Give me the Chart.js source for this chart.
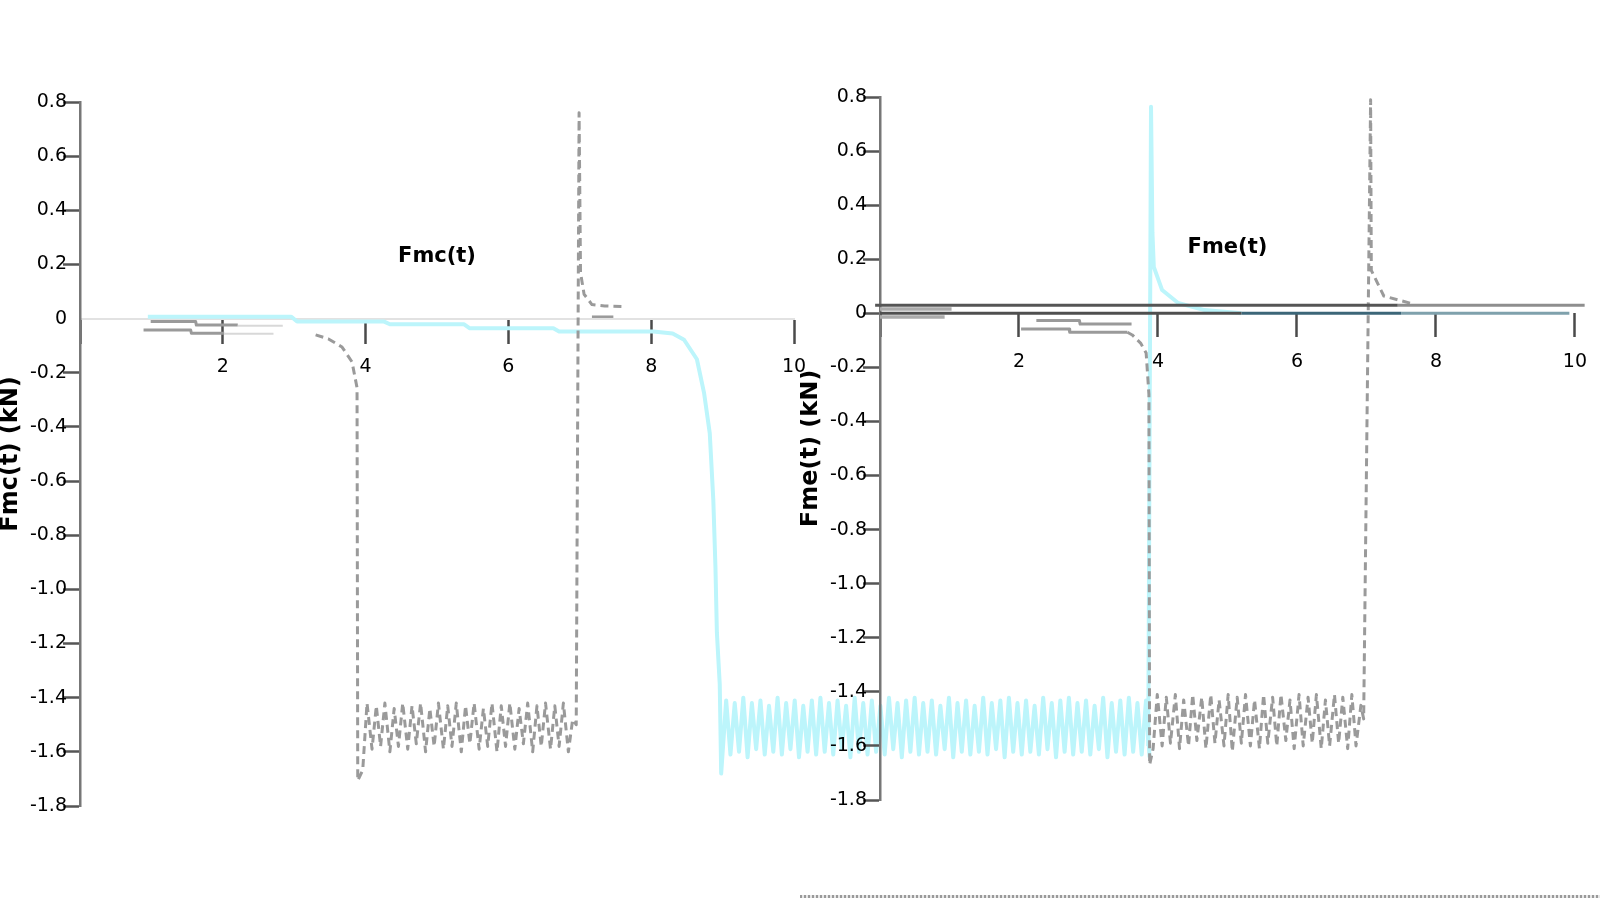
<!DOCTYPE html>
<html><head><meta charset="utf-8">
<script src="https://cdn.jsdelivr.net/npm/chart.js@4.4.0/dist/chart.umd.min.js"></script>
<style>
html,body{margin:0;padding:0;background:#fff;width:1600px;height:900px;overflow:hidden}
#wl{position:absolute;left:0;top:0;width:1600px;height:900px}
#wr{position:absolute;left:800px;top:0;width:800px;height:900px}
#strip{position:absolute;left:800px;top:895px;width:800px;height:3px;background:repeating-linear-gradient(90deg,#9a9a9a 0 2px,#e6e6e6 2px 4px)}
</style></head><body>
<div id="wl"><canvas id="cl"></canvas></div>
<div id="wr"><canvas id="cr"></canvas></div>
<div id="strip"></div>
<script>
// ---------- ticks ----------
const xTickValues = [0, 2, 4, 6, 8, 10];
const xTickLabels = ['', '2', '4', '6', '8', '10'];
const yTickValues = [-1.8, -1.6, -1.4, -1.2, -1.0, -0.8, -0.6, -0.4, -0.2, 0, 0.2, 0.4, 0.6, 0.8];
const yTickLabels = ['-1.8', '-1.6', '-1.4', '-1.2', '-1.0', '-0.8', '-0.6', '-0.4', '-0.2', '0', '0.2', '0.4', '0.6', '0.8'];

// ---------- titles ----------
const leftTitle = 'Fmc(t)';
const rightTitle = 'Fme(t)';
const leftAxisTitle = 'Fmc(t) (kN)';
const rightAxisTitle = 'Fme(t) (kN)';
const leftTitlePos = [5.0, 0.23];
const rightTitlePos = [5.0, 0.245];

// ---------- left panel ----------
const leftCyanX = [0.95, 2.96, 3.04, 4.26, 4.34, 5.38, 5.46, 6.63, 6.71, 8.03, 8.30, 8.46, 8.64, 8.74, 8.82, 8.87, 8.90, 8.92, 8.96, 8.98,
  9.05, 9.11, 9.17, 9.23, 9.29, 9.35, 9.41, 9.47, 9.53, 9.59,
  9.65, 9.71, 9.77, 9.83, 9.89, 9.95, 10.01, 10.07, 10.13, 10.19,
  10.25, 10.31, 10.37, 10.43, 10.49, 10.55, 10.61, 10.67, 10.73, 10.79,
  10.85, 10.91, 10.97, 11.03, 11.09, 11.15, 11.21, 11.27, 11.33, 11.39,
  11.45, 11.51, 11.57, 11.63, 11.69, 11.75, 11.81, 11.87, 11.93, 11.99,
  12.05, 12.11, 12.17, 12.23, 12.29, 12.35, 12.41, 12.47, 12.53, 12.59,
  12.65, 12.71, 12.77, 12.83, 12.89, 12.95, 13.01, 13.07, 13.13, 13.19,
  13.25, 13.31, 13.37, 13.43, 13.49, 13.55, 13.61, 13.67, 13.73, 13.79,
  13.85, 13.91, 13.97, 14.03, 14.09, 14.15, 14.21, 14.27, 14.33, 14.39,
  14.45, 14.51, 14.57, 14.63, 14.69, 14.75, 14.81, 14.87, 14.93, 14.98];
const leftCyanY = [0.007, 0.007, -0.011, -0.011, -0.021, -0.021, -0.036, -0.036, -0.048, -0.048, -0.055, -0.078, -0.15, -0.274, -0.423, -0.67, -0.92, -1.16, -1.35, -1.68,
  -1.41, -1.61, -1.42, -1.60, -1.40, -1.62, -1.42, -1.59, -1.41, -1.61,
  -1.43, -1.60, -1.40, -1.61, -1.42, -1.59, -1.41, -1.62, -1.43, -1.60,
  -1.41, -1.61, -1.40, -1.60, -1.42, -1.61, -1.41, -1.59, -1.43, -1.62,
  -1.40, -1.60, -1.42, -1.61, -1.41, -1.60, -1.43, -1.61, -1.40, -1.59,
  -1.42, -1.62, -1.41, -1.60, -1.40, -1.61, -1.42, -1.60, -1.41, -1.61,
  -1.43, -1.59, -1.40, -1.62, -1.42, -1.60, -1.41, -1.61, -1.43, -1.60,
  -1.40, -1.61, -1.42, -1.59, -1.41, -1.62, -1.40, -1.60, -1.42, -1.61,
  -1.41, -1.60, -1.43, -1.61, -1.40, -1.59, -1.42, -1.62, -1.41, -1.60,
  -1.40, -1.61, -1.42, -1.60, -1.41, -1.61, -1.43, -1.59, -1.40, -1.62,
  -1.42, -1.60, -1.41, -1.61, -1.40, -1.60, -1.42, -1.61, -1.41, -1.62];

const leftGrayX = [3.30, 3.48, 3.67, 3.81, 3.88, 3.89,
  3.96, 4.02, 4.09, 4.15, 4.21, 4.27, 4.34, 4.40, 4.46, 4.52, 4.59, 4.65, 4.71, 4.77, 4.84, 4.90, 4.96, 5.02, 5.09, 5.15, 5.21, 5.27, 5.34, 5.40,
  5.46, 5.52, 5.59, 5.65, 5.71, 5.77, 5.84, 5.90, 5.96, 6.02, 6.09, 6.15, 6.21, 6.27, 6.34, 6.40, 6.46, 6.52, 6.59, 6.65, 6.71, 6.77, 6.84, 6.90,
  6.95, 6.99, 7.01, 7.06, 7.17, 7.35, 7.60];
const leftGrayY = [-0.060, -0.075, -0.105, -0.160, -0.255, -1.706,
  -1.667, -1.42, -1.59, -1.43, -1.58, -1.42, -1.60, -1.44, -1.58, -1.42, -1.59, -1.43, -1.57, -1.42, -1.60, -1.44, -1.58, -1.42, -1.59, -1.43,
  -1.58, -1.42, -1.60, -1.43, -1.57, -1.42, -1.59, -1.44, -1.58, -1.42, -1.60, -1.43, -1.58, -1.42, -1.59, -1.44, -1.57, -1.42, -1.60, -1.43,
  -1.58, -1.42, -1.59, -1.43, -1.58, -1.42, -1.60, -1.48,
  -1.50, 0.76, 0.17, 0.09, 0.052, 0.047, 0.045];

const leftStepAX = [0.99, 1.62, 1.63, 2.21];
const leftStepAY = [-0.011, -0.011, -0.024, -0.024];
const leftStepBX = [0.89, 1.55, 1.56, 2.02];
const leftStepBY = [-0.042, -0.042, -0.054, -0.054];
const leftFaintAX = [2.21, 2.84];
const leftFaintAY = [-0.026, -0.026];
const leftFaintBX = [2.02, 2.71];
const leftFaintBY = [-0.056, -0.056];
const leftStepCX = [7.17, 7.47];
const leftStepCY = [0.007, 0.007];

// ---------- right panel ----------
const rightCyanX = [3.86, 3.90, 3.92, 3.94, 4.06, 4.29, 4.67, 5.20];
const rightCyanY = [-1.60, 0.764, 0.30, 0.172, 0.086, 0.038, 0.012, 0.0];

const rightGrayX = [3.56, 3.63, 3.75, 3.83, 3.87, 3.88,
  3.93, 3.99, 4.06, 4.12, 4.18, 4.25, 4.31, 4.37, 4.44, 4.50, 4.56, 4.63, 4.69, 4.76, 4.82, 4.88, 4.95, 5.01, 5.07, 5.14, 5.20, 5.26, 5.33, 5.39,
  5.46, 5.52, 5.58, 5.65, 5.71, 5.77, 5.84, 5.90, 5.96, 6.03, 6.09, 6.16, 6.22, 6.28, 6.35, 6.41, 6.47, 6.54, 6.60, 6.66, 6.73, 6.79, 6.85, 6.92,
  6.96, 7.06, 7.07, 7.25, 7.68];
const rightGrayY = [-0.070, -0.080, -0.110, -0.147, -0.30, -1.67,
  -1.61, -1.41, -1.60, -1.42, -1.59, -1.41, -1.61, -1.43, -1.60, -1.41, -1.58, -1.42, -1.61, -1.41, -1.59, -1.43, -1.60, -1.41, -1.62, -1.42,
  -1.59, -1.41, -1.60, -1.43, -1.61, -1.41, -1.59, -1.42, -1.60, -1.41, -1.58, -1.43, -1.61, -1.41, -1.60, -1.42, -1.59, -1.41, -1.61, -1.43,
  -1.60, -1.41, -1.59, -1.42, -1.61, -1.41, -1.60, -1.45,
  -1.50, 0.79, 0.159, 0.064, 0.034];

const rightStepCX = [2.25, 2.87, 2.88, 3.62];
const rightStepCY = [-0.027, -0.027, -0.040, -0.040];
const rightStepDX = [2.03, 2.72, 2.73, 3.56];
const rightStepDY = [-0.058, -0.058, -0.070, -0.070];
const rightStartEX = [0.0, 1.03];
const rightStartEY = [0.016, 0.016];
const rightStartFX = [0.0, 0.93];
const rightStartFY = [-0.014, -0.014];

const upperDarkX = [-0.07, 7.45];
const upperDarkY = [0.03, 0.03];
const upperLightX = [7.45, 10.14];
const upperLightY = [0.03, 0.03];
const lowerDarkX = [0.0, 5.2];
const lowerDarkY = [0.0, 0.0];
const lowerTealX = [5.2, 7.5];
const lowerTealY = [0.0, 0.0];
const lowerLightX = [7.5, 9.92];
const lowerLightY = [0.0, 0.0];

// ---------- helpers ----------
const pts = (xs, ys) => xs.map((x, i) => ({x: x, y: ys[i]}));
const CYAN = '#bcf5fb';
const GRAY = '#9a9a9a';

function line(xs, ys, color, width, dash) {
  return {data: pts(xs, ys), showLine: true, borderColor: color, backgroundColor: color,
    borderWidth: width, borderDash: dash || [], pointRadius: 0, pointHoverRadius: 0,
    indexAxis: 'y', tension: 0, clip: false, fill: false, borderJoinStyle: 'round', spanGaps: true};
}

const panelTitle = {
  id: 'panelTitle',
  afterDatasetsDraw(chart, args, opts) {
    const {ctx} = chart;
    const xs = chart.scales.x, ys = chart.scales.y;
    ctx.save();
    ctx.font = 'bold 21px "DejaVu Sans"';
    ctx.fillStyle = '#000';
    ctx.textAlign = 'center';
    ctx.textBaseline = 'middle';
    ctx.fillText(opts.text, xs.getPixelForValue(opts.pos[0]), ys.getPixelForValue(opts.pos[1]));
    ctx.restore();
  }
};

function makeOptions(padding, axisTitle, titleText, titlePos, xBorder, zeroTick) {
  return {
    responsive: true, maintainAspectRatio: false, animation: false, devicePixelRatio: 1,
    layout: {padding: padding},
    plugins: {legend: {display: false}, tooltip: {enabled: false}, panelTitle: {text: titleText, pos: titlePos}},
    scales: {
      x: {
        type: 'linear', position: {y: 0}, min: 0, max: 10,
        afterBuildTicks: s => { s.ticks = xTickValues.map(v => ({value: v})); },
        ticks: {color: '#000', font: {family: 'DejaVu Sans', size: 19}, padding: 13, maxRotation: 0,
          callback: (v) => xTickLabels[xTickValues.indexOf(v)]},
        grid: {drawOnChartArea: false, drawTicks: true, tickLength: 24, tickColor: '#4a4a4a', tickWidth: 2.5},
        border: xBorder
      },
      y: {
        type: 'linear', position: 'left', min: -1.8, max: 0.8,
        afterBuildTicks: s => { s.ticks = yTickValues.map(v => ({value: v})); },
        afterFit: s => { s.width = 80; },
        ticks: {color: '#000', font: {family: 'DejaVu Sans', size: 19}, padding: -4,
          callback: (v, i) => yTickLabels[i]},
        grid: {drawOnChartArea: false, drawTicks: true, tickLength: 17, tickWidth: 2.5,
          tickColor: c => (c.tick && c.tick.value === 0 && !zeroTick) ? 'rgba(0,0,0,0)' : '#555'},
        border: {display: true, color: '#777', width: 2.5, dash: [7, 5]},
        title: {display: true, text: axisTitle, color: '#000', font: {family: 'DejaVu Sans', size: 24, weight: 'bold'}, padding: {top: -4, bottom: 2}}
      }
    }
  };
}

new Chart(document.getElementById('cl'), {
  type: 'scatter',
  data: {datasets: [
    line(leftFaintAX, leftFaintAY, '#d8d8d8', 2),
    line(leftFaintBX, leftFaintBY, '#d8d8d8', 2),
    line(leftStepAX, leftStepAY, GRAY, 3),
    line(leftStepBX, leftStepBY, GRAY, 3),
    line(leftStepCX, leftStepCY, GRAY, 2.5),
    line(leftGrayX, leftGrayY, GRAY, 3, [8, 5]),
    line(leftCyanX, leftCyanY, CYAN, 4)
  ]},
  options: makeOptions({left: 0, top: 102, right: 806, bottom: 94}, leftAxisTitle, leftTitle, leftTitlePos,
    {display: true, color: '#e2e2e2', width: 2}, false),
  plugins: [panelTitle]
});

new Chart(document.getElementById('cr'), {
  type: 'scatter',
  data: {datasets: [
    line(rightStartEX, rightStartEY, '#ababab', 3.5),
    line(rightStartFX, rightStartFY, '#ababab', 3.5),
    line(upperDarkX, upperDarkY, '#555555', 3),
    line(upperLightX, upperLightY, '#8e8e8e', 3),
    line(lowerDarkX, lowerDarkY, '#4f4f4f', 3),
    line(lowerTealX, lowerTealY, '#3c6678', 3),
    line(lowerLightX, lowerLightY, '#7fa1ac', 3),
    line(rightStepCX, rightStepCY, GRAY, 3),
    line(rightStepDX, rightStepDY, GRAY, 3),
    line(rightGrayX, rightGrayY, GRAY, 3, [8, 5]),
    line(rightCyanX, rightCyanY, CYAN, 4)
  ]},
  options: makeOptions({left: 0, top: 97, right: 12, bottom: 100}, rightAxisTitle, rightTitle, rightTitlePos,
    {display: false}, true),
  plugins: [panelTitle]
});
</script>
</body></html>
